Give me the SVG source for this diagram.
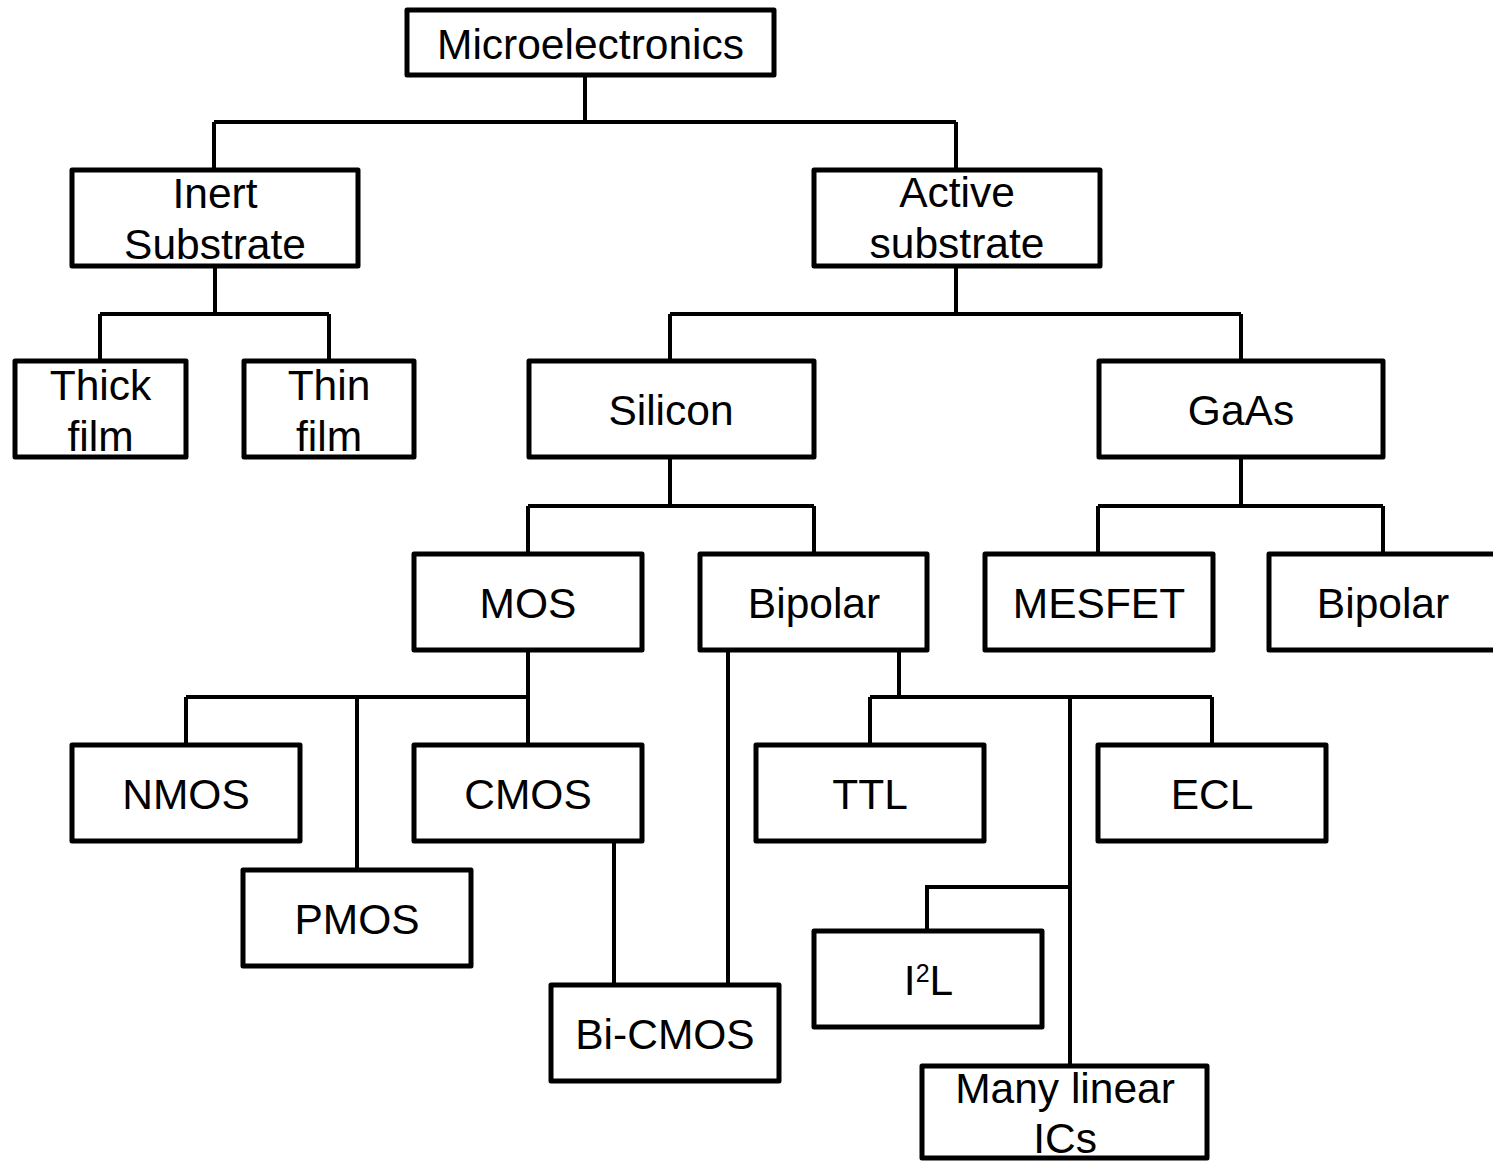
<svg xmlns="http://www.w3.org/2000/svg" width="1493" height="1161" viewBox="0 0 1493 1161">
<style>
.box{fill:#fff;stroke:#000;stroke-width:5;stroke-linejoin:round}
.lbl{font-family:"Liberation Sans",Arial,sans-serif;font-size:42.5px;fill:#000;text-anchor:middle}
.con{fill:none;stroke:#000;stroke-width:4;stroke-linejoin:miter}
</style>
<rect width="1493" height="1161" fill="#fff"/>
<g id="connectors">
<path class="con" d="M585,75V122M214,122H956M214,122V170M956,122V170"/>
<path class="con" d="M215,266V314M100,314H329M100,314V361M329,314V361"/>
<path class="con" d="M956,266V314M670,314H1241M670,314V361M1241,314V361"/>
<path class="con" d="M670,457V506M528,506H814M528,506V554M814,506V554"/>
<path class="con" d="M1241,457V506M1098,506H1383M1098,506V554M1383,506V554"/>
<path class="con" d="M528,650V745M186,697H528M186,697V745M357,697V870"/>
<path class="con" d="M614,841V985M728,650V985"/>
<path class="con" d="M899,650V697M870,697H1212M870,697V745M1212,697V745M1070,697V1066M1070,887H927V931"/>
</g>
<g id="microelectronics"><rect class="box" x="407" y="10" width="367" height="65"/><text class="lbl" x="590.5" y="59">Microelectronics</text></g>
<g id="inert"><rect class="box" x="72" y="170" width="286" height="96"/><text class="lbl" x="215" y="208">Inert</text><text class="lbl" x="215" y="259">Substrate</text></g>
<g id="active"><rect class="box" x="814" y="170" width="286" height="96"/><text class="lbl" x="957" y="207">Active</text><text class="lbl" x="957" y="258">substrate</text></g>
<g id="thick"><rect class="box" x="15" y="361" width="171" height="96"/><text class="lbl" x="100.5" y="400">Thick</text><text class="lbl" x="100.5" y="451">film</text></g>
<g id="thin"><rect class="box" x="244" y="361" width="170" height="96"/><text class="lbl" x="329" y="400">Thin</text><text class="lbl" x="329" y="451">film</text></g>
<g id="silicon"><rect class="box" x="529" y="361" width="285" height="96"/><text class="lbl" x="671" y="425">Silicon</text></g>
<g id="gaas"><rect class="box" x="1099" y="361" width="284" height="96"/><text class="lbl" x="1241" y="425">GaAs</text></g>
<g id="mos"><rect class="box" x="414" y="554" width="228" height="96"/><text class="lbl" x="528" y="618">MOS</text></g>
<g id="bipolar-si"><rect class="box" x="700" y="554" width="227" height="96"/><text class="lbl" x="814" y="618">Bipolar</text></g>
<g id="mesfet"><rect class="box" x="985" y="554" width="228" height="96"/><text class="lbl" x="1099" y="618">MESFET</text></g>
<g id="bipolar-gaas"><rect class="box" x="1269" y="554" width="228" height="96"/><text class="lbl" x="1383" y="618">Bipolar</text></g>
<g id="nmos"><rect class="box" x="72" y="745" width="228" height="96"/><text class="lbl" x="186" y="809">NMOS</text></g>
<g id="cmos"><rect class="box" x="414" y="745" width="228" height="96"/><text class="lbl" x="528" y="809">CMOS</text></g>
<g id="pmos"><rect class="box" x="243" y="870" width="228" height="96"/><text class="lbl" x="357" y="934">PMOS</text></g>
<g id="bicmos"><rect class="box" x="551" y="985" width="228" height="96"/><text class="lbl" x="665" y="1049">Bi-CMOS</text></g>
<g id="ttl"><rect class="box" x="756" y="745" width="228" height="96"/><text class="lbl" x="870" y="809">TTL</text></g>
<g id="ecl"><rect class="box" x="1098" y="745" width="228" height="96"/><text class="lbl" x="1212" y="809">ECL</text></g>
<g id="i2l"><rect class="box" x="814" y="931" width="228" height="96"/><text class="lbl" x="928.5" y="995">I<tspan font-size="25" dy="-13">2</tspan><tspan dy="13">L</tspan></text></g>
<g id="linear"><rect class="box" x="922" y="1066" width="285" height="92"/><text class="lbl" x="1065" y="1103">Many linear</text><text class="lbl" x="1065" y="1153">ICs</text></g>
</svg>
